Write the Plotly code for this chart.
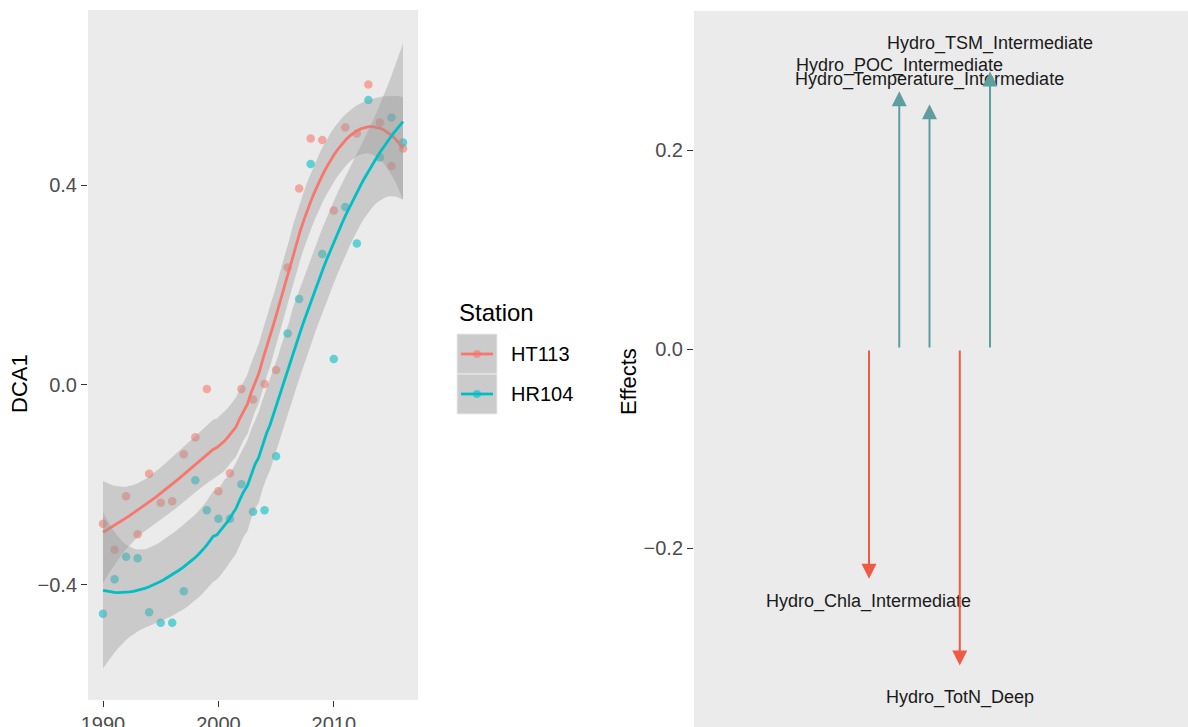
import numpy as np
import plotly.graph_objects as go

# ---- data -------------------------------------------------------------
years = list(range(1990, 2017))
stations = ["HT113", "HR104"]
station_colors = ["#F8766D", "#00BFC4"]
dca1_ht113 = [-0.278, -0.330, -0.223, -0.299, -0.178, -0.236, -0.233, -0.139, -0.105,
              -0.008, -0.213, -0.177, -0.008, -0.029, 0.002, 0.030, 0.235, 0.393,
              0.493, 0.490, 0.349, 0.515, 0.503, 0.601, 0.525, 0.438, 0.473]
dca1_hr104 = [-0.458, -0.389, -0.344, -0.347, -0.455, -0.476, -0.476, -0.413, -0.191,
              -0.251, -0.268, -0.268, -0.199, -0.254, -0.251, -0.143, 0.103, 0.172,
              0.442, 0.262, 0.052, 0.356, 0.283, 0.570, 0.455, 0.535, 0.485]

effect_names = ["Hydro_Chla_Intermediate", "Hydro_POC_Intermediate",
                "Hydro_Temperature_Intermediate", "Hydro_TotN_Deep",
                "Hydro_TSM_Intermediate"]
effect_values = [-0.231, 0.259, 0.246, -0.318, 0.279]
effect_pos = [1, 2, 3, 4, 5]
pos_color = "#5F9EA0"
neg_color = "#EE5A45"

FONT = "Liberation Sans, Arial, sans-serif"
W, H = 1188, 727


# ---- loess smoother (degree 2, span 0.75, tricube weights) ------------
def t_quantile(df, z=1.959963985):
    g1 = (z**3 + z) / 4
    g2 = (5*z**5 + 16*z**3 + 3*z) / 96
    g3 = (3*z**7 + 19*z**5 + 17*z**3 - 15*z) / 384
    g4 = (79*z**9 + 776*z**7 + 1482*z**5 - 1920*z**3 - 945*z) / 92160
    return z + g1/df + g2/df**2 + g3/df**3 + g4/df**4


def loess(x, y, xs, span=0.75):
    x = np.asarray(x, float)
    y = np.asarray(y, float)
    n = len(x)
    q = int(np.floor(n * span))

    def row(x0):
        d = np.abs(x - x0)
        h = np.sort(d)[q - 1]
        w = np.clip(1 - (d / h) ** 3, 0, None) ** 3
        X = np.column_stack([np.ones(n), x - x0, (x - x0) ** 2])
        XtW = X.T * w
        return np.linalg.solve(XtW @ X, XtW)[0]

    L = np.array([row(v) for v in x])
    Ls = np.array([row(v) for v in xs])
    fit = Ls @ y
    resid = y - L @ y
    M = np.eye(n) - L
    MM = M.T @ M
    d1 = np.trace(MM)
    d2 = np.trace(MM @ MM)
    s = np.sqrt(resid @ resid / d1)
    se = s * np.sqrt((Ls ** 2).sum(axis=1))
    t = t_quantile(d1 ** 2 / d2)
    return fit, fit - t * se, fit + t * se


def rgba(hexc, a):
    hexc = hexc.lstrip("#")
    r, g, b = (int(hexc[i:i + 2], 16) for i in (0, 2, 4))
    return f"rgba({r},{g},{b},{a})"


fig = go.Figure()

series = [dca1_ht113, dca1_hr104]
xs = np.linspace(min(years), max(years), 80)

# points first, smoothers on top
for name, col, vals in zip(stations, station_colors, series):
    fig.add_trace(go.Scatter(
        x=years, y=vals, mode="markers", name=name, showlegend=False,
        marker=dict(size=8.5, color=rgba(col, 0.6), line=dict(width=0)),
        xaxis="x", yaxis="y"))

for name, col, vals in zip(stations, station_colors, series):
    fit, lo, hi = loess(years, vals, xs)
    fig.add_trace(go.Scatter(
        x=np.concatenate([xs, xs[::-1]]), y=np.concatenate([hi, lo[::-1]]),
        mode="lines", fill="toself", fillcolor="rgba(153,153,153,0.4)",
        line=dict(width=0), hoverinfo="skip", showlegend=False,
        xaxis="x", yaxis="y"))
    fig.add_trace(go.Scatter(
        x=xs, y=fit, mode="lines", line=dict(color=col, width=2.8),
        showlegend=False, xaxis="x", yaxis="y"))

# invisible trace to anchor the right-hand subplot
fig.add_trace(go.Scatter(x=effect_pos, y=[0] * len(effect_pos), mode="markers",
                         marker=dict(opacity=0), hoverinfo="skip",
                         showlegend=False, xaxis="x2", yaxis="y2"))

annotations = []
for name, val, pos in zip(effect_names, effect_values, effect_pos):
    col = pos_color if val > 0 else neg_color
    annotations.append(dict(
        x=pos, y=val, ax=pos, ay=0, xref="x2", yref="y2", axref="x2", ayref="y2",
        text="", showarrow=True, arrowhead=2, arrowsize=1.5, arrowwidth=2,
        arrowcolor=col))
    annotations.append(dict(
        x=pos, y=val * 1.1, xref="x2", yref="y2", text=name, showarrow=False,
        xanchor="center", yanchor="middle",
        font=dict(family=FONT, size=18, color="#1A1A1A")))

# axis titles
annotations.append(dict(x=20 / W, y=1 - 384 / H, xref="paper", yref="paper",
                        text="DCA1", textangle=-90, showarrow=False,
                        xanchor="center", yanchor="middle",
                        font=dict(family=FONT, size=22, color="black")))
annotations.append(dict(x=628 / W, y=1 - 382 / H, xref="paper", yref="paper",
                        text="Effects", textangle=-90, showarrow=False,
                        xanchor="center", yanchor="middle",
                        font=dict(family=FONT, size=22, color="black")))

# legend (ggplot-style keys)
shapes = []
annotations.append(dict(x=457 / W, y=1 - 312 / H, xref="paper", yref="paper",
                        text="Station", showarrow=False, xanchor="left",
                        yanchor="middle",
                        font=dict(family=FONT, size=24, color="black")))
key_top = 334
key_h = 40
for i, (name, col) in enumerate(zip(stations, station_colors)):
    y0 = key_top + i * key_h
    yc = y0 + key_h / 2
    shapes.append(dict(type="rect", xref="paper", yref="paper",
                       x0=457 / W, x1=497 / W, y0=1 - y0 / H, y1=1 - (y0 + key_h) / H,
                       fillcolor="#CBCBCB", line=dict(color="#EBEBEB", width=1)))
    shapes.append(dict(type="line", xref="paper", yref="paper",
                       x0=461 / W, x1=493 / W, y0=1 - yc / H, y1=1 - yc / H,
                       line=dict(color=col, width=2.8)))
    shapes.append(dict(type="circle", xref="paper", yref="paper",
                       x0=473 / W, x1=481 / W, y0=1 - (yc - 4) / H, y1=1 - (yc + 4) / H,
                       fillcolor=rgba(col, 0.6), line=dict(width=0)))
    annotations.append(dict(x=509 / W, y=1 - yc / H, xref="paper", yref="paper",
                            text=name, showarrow=False, xanchor="left",
                            yanchor="middle",
                            font=dict(family=FONT, size=20, color="black")))

tickfont = dict(family=FONT, size=20, color="#4D4D4D")

fig.update_layout(
    width=W, height=H,
    margin=dict(l=0, r=0, t=0, b=0, pad=0, autoexpand=False),
    paper_bgcolor="white", plot_bgcolor="#EBEBEB", showlegend=False,
    xaxis=dict(domain=[88 / W, 418 / W], range=[1988.7, 2017.3],
               tickvals=[1990, 2000, 2010], ticks="outside", ticklen=6,
               tickwidth=1, tickcolor="#333333", tickfont=tickfont,
               showgrid=False, zeroline=False, showline=False, anchor="y"),
    yaxis=dict(domain=[1 - 700 / H, 1 - 10 / H], range=[-0.6306, 0.7503],
               tickvals=[-0.4, 0.0, 0.4], tickformat=".1f", ticks="outside",
               ticklen=6, tickwidth=1, tickcolor="#333333", tickfont=tickfont,
               showgrid=False, zeroline=False, showline=False, anchor="x"),
    xaxis2=dict(domain=[694 / W, 1.0], range=[-4.785, 11.545], visible=False,
                anchor="y2"),
    yaxis2=dict(domain=[0, 1 - 11 / H], range=[-0.3799, 0.3397],
                tickvals=[-0.2, 0.0, 0.2], tickformat=".1f", ticks="outside",
                ticklen=6, tickwidth=1, tickcolor="#333333", tickfont=tickfont,
                showgrid=False, zeroline=False, showline=False, anchor="x2"),
    annotations=annotations, shapes=shapes,
)

fig.write_html("out.html")
